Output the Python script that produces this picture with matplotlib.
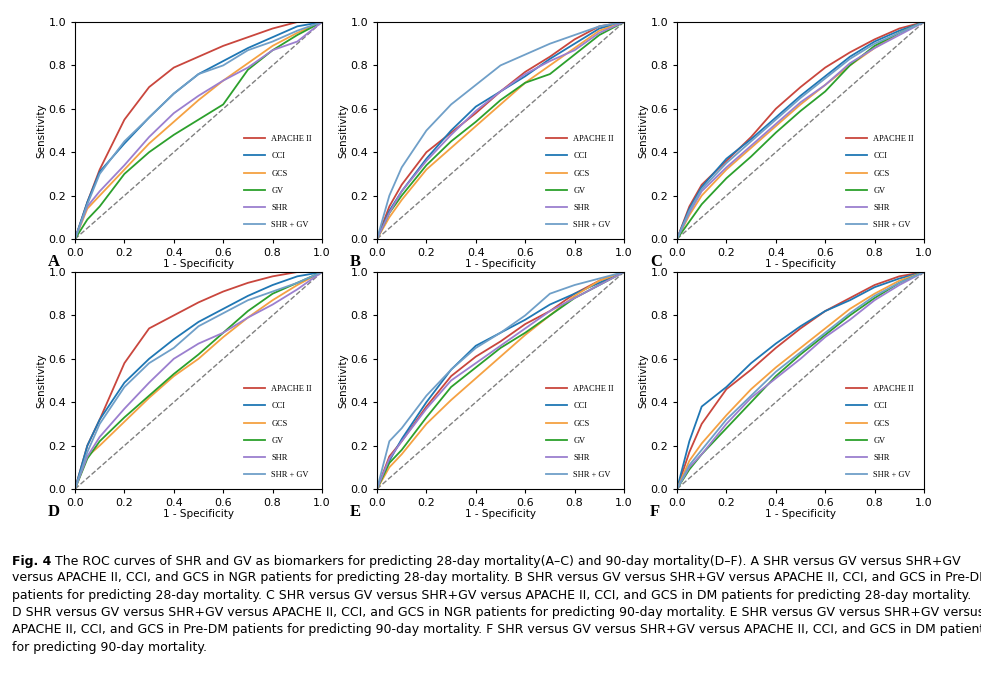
import numpy as np
import matplotlib.pyplot as plt

fpr = [0, 0.05, 0.1, 0.2, 0.3, 0.4, 0.5, 0.6, 0.7, 0.8, 0.9, 1.0]
names = ['APACHE II', 'CCI', 'GCS', 'GV', 'SHR', 'SHR + GV']
colors = ['#c9463d', '#1f77b4', '#f5a142', '#2ca02c', '#9b7fcf', '#6f9fc8']
panels = ['A', 'B', 'C', 'D', 'E', 'F']

tpr_A = [[0, .17, .32, .55, .70, .79, .84, .89, .93, .97, 1, 1],
         [0, .17, .31, .44, .56, .67, .76, .82, .88, .93, .98, 1],
         [0, .14, .20, .32, .44, .54, .64, .73, .81, .89, .95, 1],
         [0, .09, .15, .30, .40, .48, .55, .62, .78, .87, .94, 1],
         [0, .15, .22, .34, .47, .58, .66, .73, .79, .87, .91, 1],
         [0, .16, .30, .45, .56, .67, .76, .80, .87, .91, .96, 1]]
tpr_B = [[0, .15, .25, .40, .49, .58, .68, .77, .84, .92, .98, 1],
         [0, .13, .22, .37, .50, .61, .68, .75, .83, .90, .97, 1],
         [0, .10, .18, .32, .42, .52, .62, .72, .80, .88, .96, 1],
         [0, .12, .20, .34, .45, .54, .64, .72, .76, .85, .94, 1],
         [0, .12, .22, .36, .48, .59, .68, .76, .82, .87, .95, 1],
         [0, .20, .33, .50, .62, .71, .80, .85, .90, .94, .98, 1]]
tpr_C = [[0, .15, .25, .36, .47, .60, .70, .79, .86, .92, .97, 1],
         [0, .14, .24, .37, .46, .56, .66, .75, .84, .91, .96, 1],
         [0, .11, .20, .32, .42, .52, .62, .71, .80, .88, .95, 1],
         [0, .08, .16, .28, .38, .49, .59, .68, .80, .89, .95, 1],
         [0, .12, .22, .33, .43, .53, .63, .71, .81, .88, .94, 1],
         [0, .13, .23, .35, .45, .55, .65, .74, .83, .90, .95, 1]]
tpr_D = [[0, .20, .32, .58, .74, .80, .86, .91, .95, .98, 1, 1],
         [0, .20, .32, .49, .60, .69, .77, .83, .89, .94, .98, 1],
         [0, .15, .20, .31, .42, .52, .60, .70, .79, .87, .94, 1],
         [0, .14, .22, .33, .43, .53, .62, .72, .82, .90, .95, 1],
         [0, .15, .24, .37, .49, .60, .67, .72, .79, .85, .92, 1],
         [0, .17, .30, .47, .58, .65, .75, .81, .87, .91, .95, 1]]
tpr_E = [[0, .15, .22, .38, .52, .61, .68, .76, .82, .90, .96, 1],
         [0, .13, .23, .40, .55, .66, .72, .78, .85, .90, .95, 1],
         [0, .10, .16, .30, .41, .51, .61, .71, .80, .89, .96, 1],
         [0, .12, .18, .33, .47, .56, .65, .72, .80, .88, .94, 1],
         [0, .14, .22, .37, .50, .58, .66, .74, .82, .88, .94, 1],
         [0, .22, .28, .43, .55, .65, .72, .80, .90, .94, .97, 1]]
tpr_F = [[0, .17, .30, .46, .55, .65, .74, .82, .88, .94, .98, 1],
         [0, .22, .38, .47, .58, .67, .75, .82, .87, .93, .97, 1],
         [0, .13, .21, .34, .46, .56, .65, .74, .83, .90, .96, 1],
         [0, .09, .16, .28, .40, .52, .62, .71, .80, .88, .95, 1],
         [0, .10, .16, .30, .42, .51, .60, .70, .78, .87, .94, 1],
         [0, .11, .18, .32, .43, .54, .63, .72, .81, .89, .95, 1]]
all_tpr = [tpr_A, tpr_B, tpr_C, tpr_D, tpr_E, tpr_F]

caption_first = ("The ROC curves of SHR and GV as biomarkers for predicting 28-day mortality(A–C) "
                 "and 90-day mortality(D–F). A SHR versus GV versus SHR+GV")
caption_rest = ("versus APACHE II, CCI, and GCS in NGR patients for predicting 28-day mortality. B SHR versus GV versus SHR+GV versus APACHE II, CCI, and GCS in Pre-DM\n"
                "patients for predicting 28-day mortality. C SHR versus GV versus SHR+GV versus APACHE II, CCI, and GCS in DM patients for predicting 28-day mortality.\n"
                "D SHR versus GV versus SHR+GV versus APACHE II, CCI, and GCS in NGR patients for predicting 90-day mortality. E SHR versus GV versus SHR+GV versus\n"
                "APACHE II, CCI, and GCS in Pre-DM patients for predicting 90-day mortality. F SHR versus GV versus SHR+GV versus APACHE II, CCI, and GCS in DM patients\n"
                "for predicting 90-day mortality.")

W, H = 981, 681
fig = plt.figure(figsize=(W / 100, H / 100), dpi=100)
lefts = [75, 377, 677]
tops = [22, 272]
for i in range(6):
    r, c = divmod(i, 3)
    ax = fig.add_axes([lefts[c] / W, 1 - (tops[r] + 217) / H, 247 / W, 217 / H])
    ax.plot([0, 1], [0, 1], ls='--', color='gray', lw=1)
    for name, col, t in zip(names, colors, all_tpr[i]):
        ax.plot(fpr, t, color=col, lw=1.3, label=name)
    ax.set_xlim(0, 1)
    ax.set_ylim(0, 1)
    ax.set_xticks(np.arange(0, 1.01, 0.2))
    ax.set_yticks(np.arange(0, 1.01, 0.2))
    ax.tick_params(labelsize=8, length=3)
    ax.set_xlabel('1 - Specificity', fontsize=7.5, labelpad=1)
    ax.set_ylabel('Sensitivity', fontsize=7.5, labelpad=1)
    ax.legend(loc='lower right', frameon=False, prop={'family': 'Liberation Serif', 'size': 6},
              handlelength=2.5, labelspacing=1.1, borderaxespad=0.8)
    fig.text((lefts[c] - 27) / W, 1 - (tops[r] + 240) / H, panels[i], fontsize=12,
             fontweight='bold', family='Liberation Serif', va='center')

fig.text(12 / W, 1 - 562 / H, 'Fig. 4', fontsize=9, fontweight='bold', va='center')
fig.text(55 / W, 1 - 562 / H, caption_first, fontsize=9, va='center')
fig.text(12 / W, 1 - 571 / H, caption_rest, fontsize=9, va='top', linespacing=1.45)
fig.savefig('out.png', dpi=100)
